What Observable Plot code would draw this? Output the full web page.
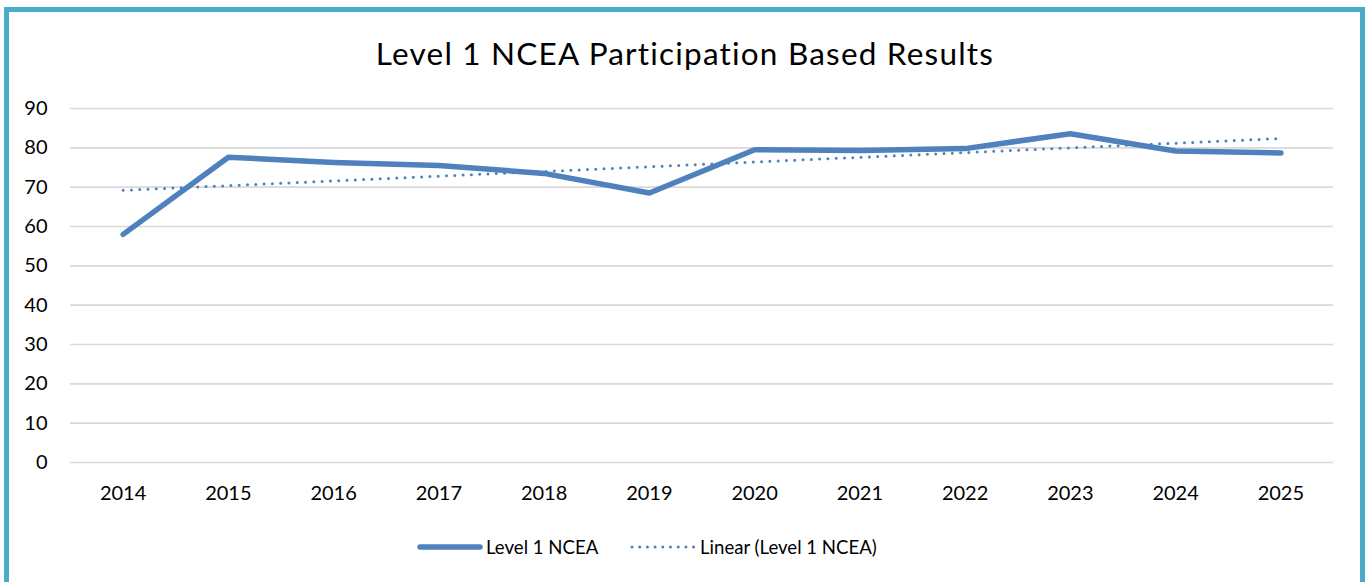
<!DOCTYPE html>
<html>
<head>
<meta charset="utf-8">
<script src="https://cdn.jsdelivr.net/npm/d3@7"></script>
<script src="https://cdn.jsdelivr.net/npm/@observablehq/plot@0.6"></script>
<style>
  html, body { margin: 0; padding: 0; background: #fff; width: 1370px; height: 582px; overflow: hidden; }
  body { position: relative; font-family: Lato, "Open Sans", sans-serif; color: #000; }
  #frame { position: absolute; left: 4px; top: 7px; width: 1351px; height: 600px; border: 5px solid #4BACC6; border-bottom: none; background: #fff; }
  #title { position: absolute; left: 0; width: 1370px; top: 34px; text-align: center; font-size: 31.5px; letter-spacing: 1.2px; line-height: 38px; white-space: nowrap; }
  #chart { position: absolute; left: 0; top: 0; }
  .leg { position: absolute; font-size: 18.6px; line-height: 24px; white-space: nowrap; }
  .sw { position: absolute; }
</style>
</head>
<body>
<div id="frame"></div>
<div id="title">Level 1 NCEA Participation Based Results</div>
<div id="chart"></div>
<svg class="sw" style="left:416px;top:540px" width="70" height="14"><line x1="4" y1="7" x2="64" y2="7" stroke="#4F81BD" stroke-width="5.5" stroke-linecap="round"/></svg>
<div class="leg" style="left:486px;top:535px">Level 1 NCEA</div>
<svg class="sw" style="left:628px;top:540px" width="70" height="14"><line x1="4" y1="7" x2="66" y2="7" stroke="#4F81BD" stroke-width="3" stroke-linecap="round" stroke-dasharray="0,7.7"/></svg>
<div class="leg" style="left:700px;top:535px">Linear (Level 1 NCEA)</div>
<script>
const years = [2014, 2015, 2016, 2017, 2018, 2019, 2020, 2021, 2022, 2023, 2024, 2025];
const level1 = [58.0, 77.6, 76.3, 75.5, 73.5, 68.5, 79.5, 79.3, 79.8, 83.6, 79.2, 78.7];
const yTicks = [0, 10, 20, 30, 40, 50, 60, 70, 80, 90];

const data = years.map((y, i) => ({year: y, value: level1[i]}));
const color = "#4F81BD";

const chart = Plot.plot({
  width: 1370,
  height: 582,
  marginLeft: 70,
  marginRight: 37,
  marginTop: 108,
  marginBottom: 120,
  style: {fontFamily: "Lato, 'Open Sans', sans-serif", fontSize: "20px", color: "#000", background: "transparent", overflow: "visible"},
  x: {type: "linear", domain: [years[0] - 0.5, years[years.length - 1] + 0.5], ticks: years, tickFormat: d => String(d), label: null},
  y: {domain: [0, 90], ticks: yTicks, label: null},
  marks: [
    Plot.gridY(yTicks, {stroke: "#d9d9d9", strokeOpacity: 1, strokeWidth: 1.6}),
    Plot.axisY({ticks: yTicks, tickSize: 0, tickPadding: 23, label: null, fill: "#000"}),
    Plot.axisX({ticks: years, tickSize: 0, tickPadding: 23, label: null, tickFormat: d => String(d), fill: "#000"}),
    Plot.linearRegressionY(data, {x: "year", y: "value", ci: 0, stroke: color, strokeWidth: 3, strokeDasharray: "0,8.3", strokeLinecap: "round"}),
    Plot.line(data, {x: "year", y: "value", stroke: color, strokeWidth: 5.5, strokeLinecap: "round", strokeLinejoin: "round"})
  ]
});
document.getElementById("chart").appendChild(chart);
</script>
</body>
</html>
